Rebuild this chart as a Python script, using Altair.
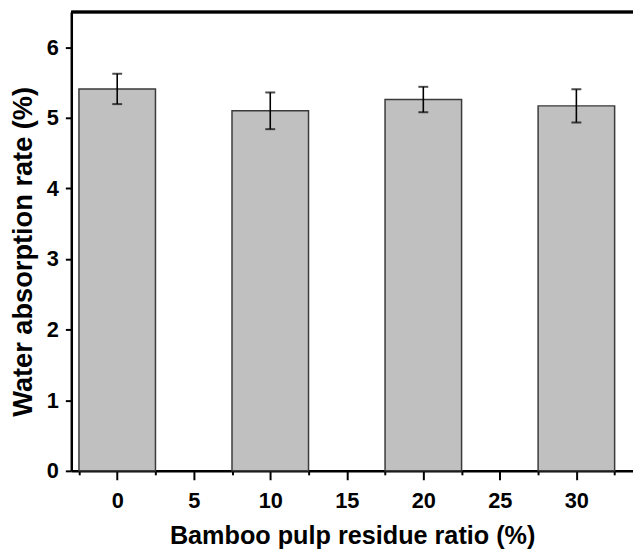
import altair as alt
import pandas as pd

ratios = [0, 10, 20, 30]
means = [5.41, 5.10, 5.26, 5.17]
errs = [0.215, 0.26, 0.18, 0.235]

x_ticks = [-2.5, 0, 2.5, 5, 7.5, 10, 12.5, 15, 17.5, 20, 22.5, 25, 27.5, 30, 32.5]
y_ticks = [0, 0.5, 1, 1.5, 2, 2.5, 3, 3.5, 4, 4.5, 5, 5.5, 6]

df = pd.DataFrame({"ratio": ratios, "mean": means, "err": errs})

FONT = "Liberation Sans"
W, H = 568, 464

xscale = alt.Scale(domain=[-3, 33.7], nice=False, zero=False)
yscale = alt.Scale(domain=[0, 6.5], nice=False)

xaxis = alt.Axis(
    values=x_ticks,
    title="Bamboo pulp residue ratio (%)",
    format="~g",
    labelExpr="datum.value % 5 == 0 ? datum.label : ''",
    tickSize={"condition": {"test": "datum.value % 5 == 0", "value": 9}, "value": 4},
    grid=False, domainColor="black", domainWidth=2.5, tickColor="black", tickWidth=2,
    labelFont=FONT, labelFontSize=22, labelFontWeight="bold", labelColor="black",
    labelPadding=11, labelFlush=False, labelOverlap=False,
    titleFont=FONT, titleFontSize=25.5, titleFontWeight="bold", titleColor="black",
    titlePadding=12,
)
yaxis = alt.Axis(
    values=y_ticks,
    title="Water absorption rate (%)",
    format="~g",
    labelExpr="datum.value % 1 == 0 ? datum.label : ''",
    tickSize={"condition": {"test": "datum.value % 1 == 0", "value": 6}, "value": 4},
    grid=False, domainColor="black", domainWidth=2.5, tickColor="black", tickWidth=2,
    labelFont=FONT, labelFontSize=22, labelFontWeight="bold", labelColor="black",
    labelPadding=7, labelFlush=False, labelOverlap=False,
    titleFont=FONT, titleFontSize=27.5, titleFontWeight="bold", titleColor="black",
    titlePadding=9, titleY=H / 2 + 10,
)

base = alt.Chart(df).transform_calculate(
    x0="datum.ratio - 2.5", x1="datum.ratio + 2.5",
    lo="datum.mean - datum.err", hi="datum.mean + datum.err",
)

bars = base.mark_rect(fill="#c0c0c0", stroke="#3a3a3a", strokeWidth=1.5).encode(
    x=alt.X("x0:Q", scale=xscale, axis=xaxis),
    x2="x1:Q",
    y=alt.Y("mean:Q", scale=yscale, axis=yaxis),
    y2=alt.datum(0),
)

rules = base.mark_rule(color="black", strokeWidth=1.6).encode(
    x=alt.X("ratio:Q", scale=xscale),
    y=alt.Y("lo:Q", scale=yscale),
    y2="hi:Q",
)
cap_lo = base.mark_tick(color="black", orient="horizontal", size=10, thickness=2).encode(
    x=alt.X("ratio:Q", scale=xscale),
    y=alt.Y("lo:Q", scale=yscale),
)
cap_hi = base.mark_tick(color="black", orient="horizontal", size=10, thickness=2).encode(
    x=alt.X("ratio:Q", scale=xscale),
    y=alt.Y("hi:Q", scale=yscale),
)

top_line = alt.Chart(df).mark_rule(color="black", strokeWidth=2.5).encode(
    x=alt.value(0), x2=alt.value(W), y=alt.value(0)
)

chart = alt.layer(bars, rules, cap_lo, cap_hi, top_line).properties(
    width=W, height=H,
    autosize=alt.AutoSizeParams(type="none"),
    padding={"left": 64, "top": 1, "right": 0, "bottom": 76},
).configure_view(stroke=None)

chart.save("out.html", embed_options={"renderer": "svg", "actions": False})
